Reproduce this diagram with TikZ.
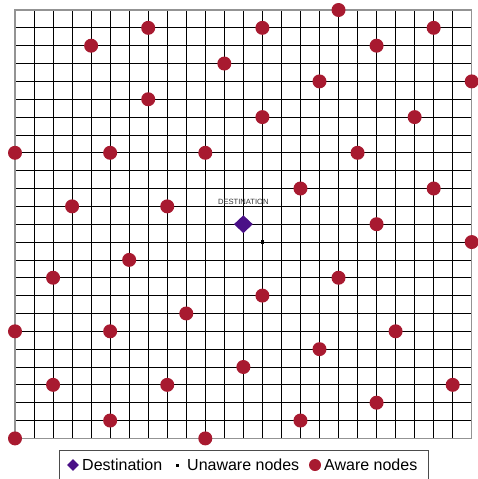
\documentclass[tikz,border=0pt]{standalone}
\usepackage{fontspec}
\setmainfont{Liberation Sans}
\usetikzlibrary{shapes.geometric}
\definecolor{awarered}{HTML}{A81A30}
\definecolor{destpurple}{HTML}{4A1087}
\tikzset{
 awarenode/.style={circle,fill=awarered,inner sep=0pt,minimum size=14pt},
 destnode/.style={diamond,fill=destpurple,inner sep=0pt,minimum width=19pt,minimum height=18pt},
 unawarenode/.style={rectangle,fill=black,inner sep=0pt,minimum size=3.6pt},
 gridline/.style={black,line width=0.8pt},
 frameline/.style={gray!85,line width=1.3pt},
 legendtext/.style={font=\fontsize{16}{18}\selectfont, inner sep=0pt, anchor=base west},
 desttext/.style={font=\fontsize{7.6}{9}\selectfont, text=black!80, inner sep=0pt}
}
\begin{document}
\begin{tikzpicture}[x=1pt,y=-1pt]
\useasboundingbox (0,0) rectangle (477,479);
\begin{scope}[shift={(15,10)},x=19.03pt,y=-17.85pt]
 \foreach \i in {1,...,23} {
   \draw[gridline] (\i,0) -- (\i,24);
   \draw[gridline] (0,\i) -- (24,\i);
 }
 \draw[frameline] (0,0) rectangle (24,24);
 \foreach \i/\j [count=\n] in {17/0,7/1,13/1,22/1,4/2,19/2,11/3,16/4,24/4,7/5,13/6,21/6,
   0/8,5/8,10/8,18/8,15/10,22/10,3/11,8/11,19/12,24/13,6/14,2/15,17/15,13/16,9/17,
   0/18,5/18,20/18,16/19,12/20,2/21,8/21,23/21,19/22,5/23,15/23,0/24,10/24}
   \node[awarenode] (a\n) at (\i,\j) {};
 \node[destnode] (dest) at (12,12) {};
 \node[unawarenode] (u1) at (13,13) {};
 \node[desttext] (destlabel) at (12,10.74) {DESTINATION};
\end{scope}
% legend
\draw[gray!60!black,line width=0.8pt] (59,480) -- (59,450) -- (428,450) -- (428,480);
\node[destnode,minimum width=12pt,minimum height=12pt] (ldest) at (73,465) {};
\node[legendtext] (ldesttext) at (82,470.5) {Destination};
\node[unawarenode,minimum size=3pt] (lun) at (177,465) {};
\node[legendtext] (luntext) at (187,470.5) {Unaware nodes};
\node[awarenode,minimum size=12pt] (law) at (315,465) {};
\node[legendtext] (lawtext) at (324,470.5) {Aware nodes};
\end{tikzpicture}
\end{document}
